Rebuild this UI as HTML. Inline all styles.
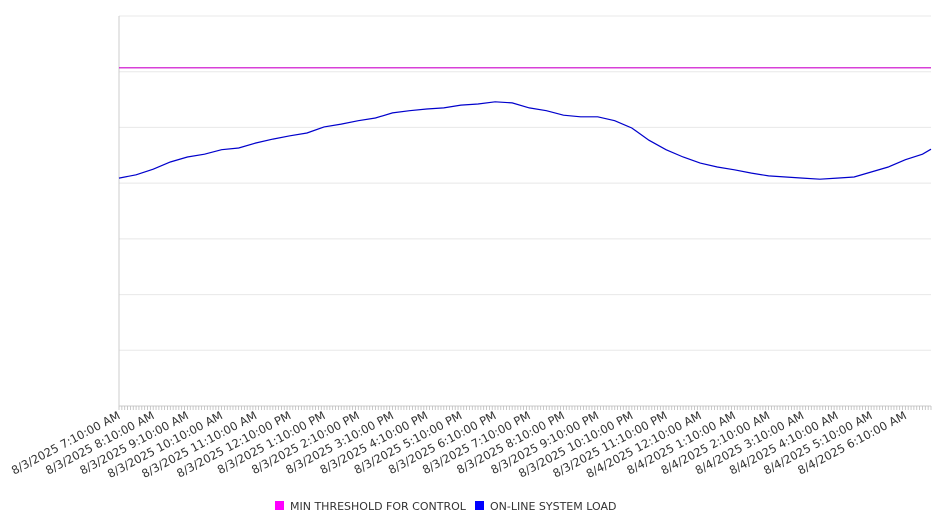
<!DOCTYPE html>
<html><head><meta charset="utf-8"><style>
body{margin:0;background:#fff;}
svg{display:block;font-family:"DejaVu Sans","Liberation Sans",sans-serif;}
</style></head><body>
<svg id="chart" width="946" height="526"></svg>
<script>
const minutes=[0,30,60,90,120,150,180,210,240,270,300,330,360,390,420,450,480,510,540,570,600,630,660,690,720,750,780,810,840,870,900,930,960,990,1020,1050,1080,1110,1140,1170,1200,1230,1260,1290,1320,1350,1380,1410,1425];
const loadValues=[409,415,425,438,447,452,460,463,472,479,485,490,501,506,512,517,526,530,533,535,540,542,546,544,535,530,522,519,519,512,499,477,460,447,436,429,424,418,413,411,409,407,409,411,420,429,442,452,461];
const thresholdValue=607;
const tickLabels=["8/3/2025 7:10:00 AM","8/3/2025 8:10:00 AM","8/3/2025 9:10:00 AM","8/3/2025 10:10:00 AM","8/3/2025 11:10:00 AM","8/3/2025 12:10:00 PM","8/3/2025 1:10:00 PM","8/3/2025 2:10:00 PM","8/3/2025 3:10:00 PM","8/3/2025 4:10:00 PM","8/3/2025 5:10:00 PM","8/3/2025 6:10:00 PM","8/3/2025 7:10:00 PM","8/3/2025 8:10:00 PM","8/3/2025 9:10:00 PM","8/3/2025 10:10:00 PM","8/3/2025 11:10:00 PM","8/4/2025 12:10:00 AM","8/4/2025 1:10:00 AM","8/4/2025 2:10:00 AM","8/4/2025 3:10:00 AM","8/4/2025 4:10:00 AM","8/4/2025 5:10:00 AM","8/4/2025 6:10:00 AM"];
const yTicks=[0,100,200,300,400,500,600,700];

const NS="http://www.w3.org/2000/svg";
const svg=document.getElementById('chart');
const L=119,R=931,T=16,B=406;
const xS=m=>L+(m/1425)*(R-L);
const yS=v=>B-(v/700)*(B-T);
function mk(t,a,p){const e=document.createElementNS(NS,t);for(const k in a)e.setAttribute(k,a[k]);(p||svg).appendChild(e);return e;}

yTicks.forEach(v=>{
  const g=mk('line',{x1:L,x2:R,y1:yS(v),y2:yS(v),stroke:'#e8e8e8','stroke-width':1});
  
  
});
const ax=mk('line',{x1:L,x2:L,y1:T,y2:B,stroke:'#ccc','stroke-width':1});


const xa=mk('line',{x1:L,x2:R,y1:B,y2:B,stroke:'#ccc','stroke-width':1});


for(let m=0;m<=1425;m+=5){
  const t=mk('line',{x1:xS(m),x2:xS(m),y1:B,y2:B+4,stroke:'#bbb','stroke-width':0.8});
  
  
}
tickLabels.forEach((s,i)=>{
  const x=xS(i*60)+2,y=B+12;
  const t=mk('text',{x:x,y:y,'text-anchor':'end','font-size':11.5,fill:'#333',transform:`rotate(-28 ${x} ${y})`});
  t.textContent=s;
  
  
});
const th=mk('line',{x1:L,x2:R,y1:yS(thresholdValue),y2:yS(thresholdValue),stroke:'#cc00cc','stroke-width':1.2});


const pts=minutes.map((m,i)=>xS(m).toFixed(1)+','+yS(loadValues[i]).toFixed(1)).join(' ');
const pl=mk('polyline',{points:pts,fill:'none',stroke:'#0000cc','stroke-width':1.2});



const lg=mk('g',{});


[[275,'#ff00ff','MIN THRESHOLD FOR CONTROL','legend-entry-threshold'],[475,'#0000ff','ON-LINE SYSTEM LOAD','legend-entry-load']].forEach(d=>{
  const g=mk('g',{},lg);
  
  
  mk('rect',{x:d[0],y:501,width:9,height:9,fill:d[1]},g);
  const t=mk('text',{x:d[0]+15,y:510,'font-size':11,fill:'#333'},g);
  t.textContent=d[2];
});
</script>
</body></html>
